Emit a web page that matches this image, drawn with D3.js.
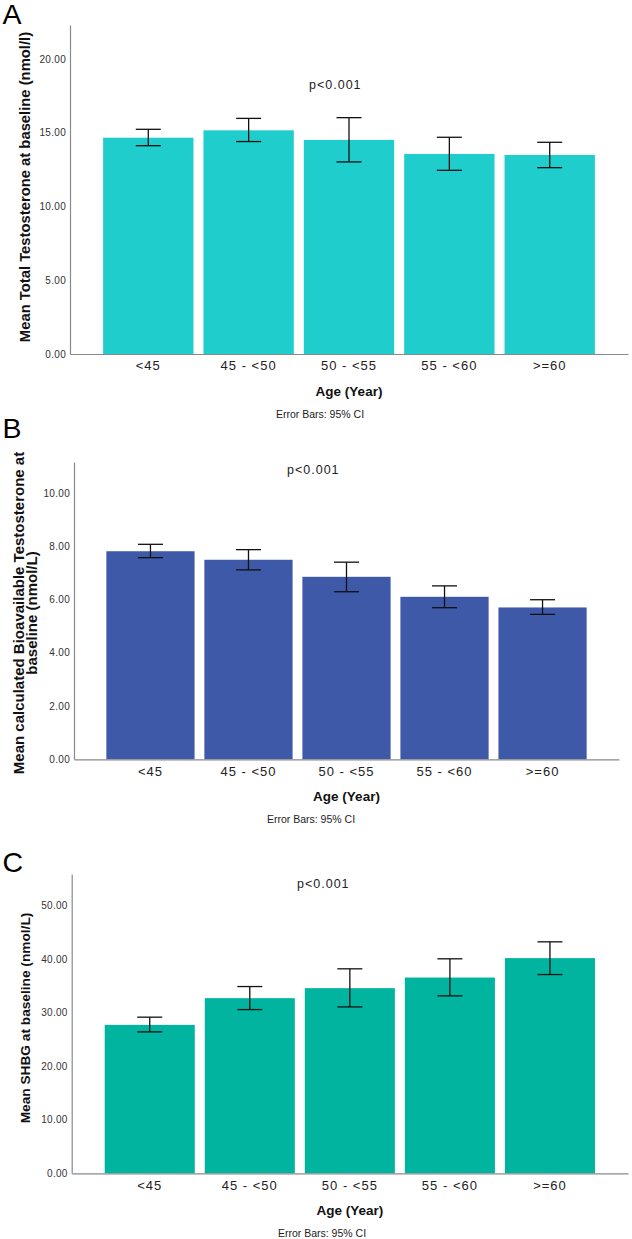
<!DOCTYPE html>
<html>
<head>
<meta charset="utf-8">
<script src="https://cdn.jsdelivr.net/npm/d3@7/dist/d3.min.js"></script>
<style>
  html, body { margin: 0; padding: 0; background: #fff; }
  svg { display: block; font-family: "Liberation Sans", Arial, sans-serif; }
</style>
</head>
<body>
<svg id="chart" width="632" height="1239"></svg>
<script>
// ---- Data ----
const categories = ["<45", "45 - <50", "50 - <55", "55 - <60", ">=60"];

const totalT_mean = [14.66, 15.16, 14.51, 13.56, 13.49];
const totalT_lo   = [14.12, 14.40, 13.02, 12.45, 12.63];
const totalT_hi   = [15.23, 15.97, 16.02, 14.69, 14.35];
const totalT_ticks = [0, 5, 10, 15, 20];

const bioT_mean = [7.81, 7.49, 6.85, 6.10, 5.70];
const bioT_lo   = [7.57, 7.11, 6.29, 5.69, 5.44];
const bioT_hi   = [8.07, 7.87, 7.40, 6.51, 5.99];
const bioT_ticks = [0, 2, 4, 6, 8, 10];

const shbg_mean = [27.72, 32.71, 34.58, 36.56, 40.19];
const shbg_lo   = [26.41, 30.58, 31.08, 33.14, 37.12];
const shbg_hi   = [29.16, 34.88, 38.19, 40.06, 43.23];
const shbg_ticks = [0, 10, 20, 30, 40, 50];

const pText = "p<0.001";
const xTitle = "Age (Year)";
const footnote = "Error Bars: 95% CI";

// ---- Panels ----
const panels = [
  { letter: "A", letterY: 24, x0: 70, x1: 628, yTop: 25, yBot: 354, yMax: 22.3,
    mean: totalT_mean, lo: totalT_lo, hi: totalT_hi, ticks: totalT_ticks,
    color: "#1ecdcc", yLabel: ["Mean Total Testosterone at baseline (nmol/l)"], yLabelX: [30],
    yLabelSize: 14.8, yLabelCY: 187,
    pX: 309, pY: 89, footX: 320 },
  { letter: "B", letterY: 438, x0: 74, x1: 619, yTop: 462, yBot: 759.3, yMax: 11.16,
    mean: bioT_mean, lo: bioT_lo, hi: bioT_hi, ticks: bioT_ticks,
    color: "#3e59a8", yLabel: ["Mean calculated Bioavailable Testosterone at", "baseline (nmol/L)"], yLabelX: [24, 37],
    yLabelSize: 15, yLabelCY: 613,
    pX: 287, pY: 474, footX: 311 },
  { letter: "C", letterY: 872, x0: 71.7, x1: 628, yTop: 874, yBot: 1173.3, yMax: 55.9,
    mean: shbg_mean, lo: shbg_lo, hi: shbg_hi, ticks: shbg_ticks,
    color: "#00b4a0", yLabel: ["Mean SHBG at baseline (nmol/L)"], yLabelX: [30],
    yLabelSize: 13.7, yLabelCY: 1018,
    pX: 297, pY: 888, footX: 322 }
];

const svg = d3.select("#chart");

panels.forEach(p => {
  const g = svg.append("g");

  const x = d3.scaleBand().domain(categories).range([p.x0, p.x1])
    .paddingInner(0.1).paddingOuter(0.33);
  const y = d3.scaleLinear().domain([0, p.yMax]).range([p.yBot, p.yTop]);

  // panel letter
  g.append("text").attr("x", 2.5).attr("y", p.letterY)
    .attr("font-size", 28.5).attr("fill", "#000").text(p.letter);

  // bars
  g.selectAll("rect.bar").data(categories).join("rect")
    .attr("class", "bar")
    .attr("x", d => x(d))
    .attr("width", x.bandwidth())
    .attr("y", (d, i) => y(p.mean[i]))
    .attr("height", (d, i) => y(0) - y(p.mean[i]))
    .attr("fill", p.color);

  // error bars
  const capW = 25;
  const eb = g.selectAll("g.eb").data(categories).join("g").attr("class", "eb");
  eb.append("line")
    .attr("x1", d => x(d) + x.bandwidth() / 2).attr("x2", d => x(d) + x.bandwidth() / 2)
    .attr("y1", (d, i) => y(p.lo[i])).attr("y2", (d, i) => y(p.hi[i]));
  eb.append("line")
    .attr("x1", d => x(d) + x.bandwidth() / 2 - capW / 2).attr("x2", d => x(d) + x.bandwidth() / 2 + capW / 2)
    .attr("y1", (d, i) => y(p.hi[i])).attr("y2", (d, i) => y(p.hi[i]));
  eb.append("line")
    .attr("x1", d => x(d) + x.bandwidth() / 2 - capW / 2).attr("x2", d => x(d) + x.bandwidth() / 2 + capW / 2)
    .attr("y1", (d, i) => y(p.lo[i])).attr("y2", (d, i) => y(p.lo[i]));
  eb.selectAll("line").attr("stroke", "#111").attr("stroke-width", 1.3);

  // y axis
  const ya = g.append("g").attr("transform", `translate(${p.x0},0)`)
    .call(d3.axisLeft(y).tickValues(p.ticks).tickFormat(d3.format(".2f"))
      .tickSize(0).tickSizeOuter(0).tickPadding(4));
  ya.select(".domain").attr("stroke", "#8a8a8a").attr("stroke-width", 1.2);
  ya.selectAll("text").attr("font-size", 10).attr("fill", "#333")
    .attr("font-family", "'Liberation Sans', Arial, sans-serif").style("letter-spacing", "0.3px");

  // x axis
  const xa = g.append("g").attr("transform", `translate(0,${p.yBot})`)
    .call(d3.axisBottom(x).tickSize(0).tickSizeOuter(0).tickPadding(7));
  xa.select(".domain").attr("stroke", "#8a8a8a").attr("stroke-width", 1.2);
  xa.selectAll("text").attr("font-size", 13).attr("fill", "#222")
    .attr("font-family", "'Liberation Sans', Arial, sans-serif").style("letter-spacing", "1px");

  // p value
  g.append("text").attr("x", p.pX).attr("y", p.pY)
    .attr("font-size", 12.5).attr("fill", "#222").style("letter-spacing", "1px").text(pText);

  // x title
  g.append("text").attr("x", (p.x0 + p.x1) / 2).attr("y", p.yBot + 42)
    .attr("text-anchor", "middle").attr("font-size", 13.5).attr("font-weight", "bold")
    .attr("fill", "#111").text(xTitle);

  // footnote
  g.append("text").attr("x", p.footX).attr("y", p.yBot + 64)
    .attr("text-anchor", "middle").attr("font-size", 10.5).attr("fill", "#222").text(footnote);

  // y title
  p.yLabel.forEach((line, k) => {
    g.append("text")
      .attr("transform", `translate(${p.yLabelX[k]},${p.yLabelCY}) rotate(-90)`)
      .attr("text-anchor", "middle").attr("font-size", p.yLabelSize).attr("font-weight", "bold")
      .attr("fill", "#111").text(line);
  });
});
</script>
</body>
</html>
